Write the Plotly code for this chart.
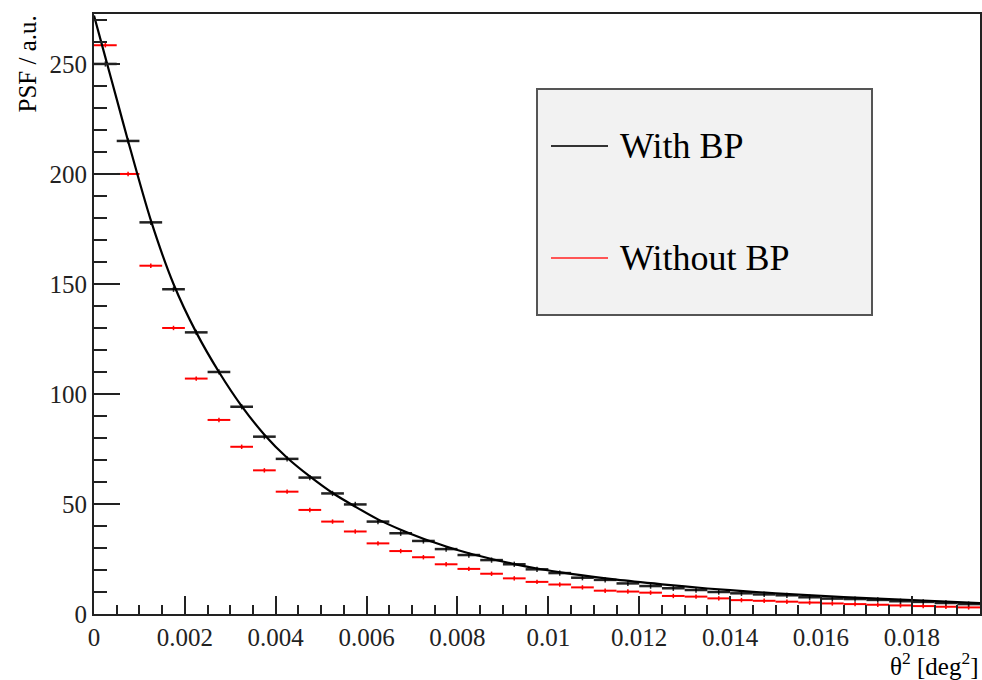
import numpy as np
import plotly.graph_objects as go

# histogram contents, bins of 0.0005 deg^2 starting at 0
bin_width = 0.0005
with_bp = [250, 215, 178, 147.6, 128, 110, 94.2, 80.6, 70.5, 62,
           54.8, 49.8, 42, 36.7, 33.2, 29.5, 26.8, 24.5, 22.6, 20.3,
           18.6, 16.5, 15.5, 13.9, 12.7, 11.7, 10.9, 10.0, 9.4, 8.9,
           8.5, 7.6, 7.0, 6.8, 6.4, 5.8, 5.5, 5.0, 4.5]
without_bp = [258.5, 200, 158.3, 130, 107, 88.2, 76, 65.3, 55.6, 47.3,
              42, 37.5, 32.1, 28.6, 25.8, 22.6, 20.5, 18.3, 16.2, 14.6,
              13.4, 12.1, 10.6, 10.2, 9.7, 8.2, 7.9, 7.1, 6.3, 6.0,
              5.6, 5.2, 4.8, 4.5, 4.2, 3.9, 3.6, 3.3, 3.0]

# fitted curve
fit_x = [0, 0.00025, 0.0005, 0.00075, 0.00125, 0.00175, 0.00225, 0.00275,
         0.00325, 0.00375, 0.00425, 0.00475, 0.00525, 0.00575, 0.00625,
         0.00675, 0.00725, 0.00775, 0.00825, 0.00875, 0.00925, 0.00975,
         0.0105, 0.0115, 0.0125, 0.0135, 0.0145, 0.0155, 0.0165, 0.0175,
         0.0185, 0.0195]
fit_y = [272, 253, 234, 215, 179, 150, 128, 110, 94.5, 81.5, 71, 62.5, 55,
         48.8, 43, 38.3, 34.2, 30.7, 27.6, 25, 22.7, 20.7, 18.2, 15.6, 13.5,
         11.6, 10.1, 8.8, 7.7, 6.8, 5.9, 4.9]

x_tickvals = [0, 0.002, 0.004, 0.006, 0.008, 0.01, 0.012, 0.014, 0.016, 0.018]
x_ticktext = ["0", "0.002", "0.004", "0.006", "0.008", "0.01", "0.012", "0.014", "0.016", "0.018"]
y_tickvals = [0, 50, 100, 150, 200, 250]

FONT = "Liberation Serif, Times New Roman, serif"

centers = (np.arange(len(with_bp)) + 0.5) * bin_width

fig = go.Figure()
fig.add_trace(go.Scatter(
    x=centers, y=without_bp, mode="markers", name="Without BP",
    marker=dict(size=2, color="red"),
    error_x=dict(type="constant", value=bin_width / 2, color="red", thickness=2, width=0),
    error_y=dict(type="constant", value=1.0, color="red", thickness=1.5, width=0),
))
fig.add_trace(go.Scatter(
    x=centers, y=with_bp, mode="markers", name="With BP",
    marker=dict(size=2, color="black"),
    error_x=dict(type="constant", value=bin_width / 2, color="#222", thickness=2.5, width=0),
    error_y=dict(type="constant", value=1.2, color="#222", thickness=1.5, width=0),
))
fig.add_trace(go.Scatter(
    x=fit_x, y=fit_y, mode="lines", name="fit",
    line=dict(color="black", width=2.2, shape="spline", smoothing=0.8),
))

# legend box drawn by hand to match the ROOT TLegend
fig.add_shape(type="rect", xref="paper", yref="paper",
              x0=(537 - 94) / 886, x1=(872 - 94) / 886,
              y0=(614 - 315) / 600, y1=(614 - 89) / 600,
              fillcolor="#f2f2f2", line=dict(color="#555", width=2), layer="below")
for ypix, col, label in [(146, "#333", "With BP"), (258, "#ff5555", "Without BP")]:
    yp = (614 - ypix) / 600
    fig.add_shape(type="line", xref="paper", yref="paper",
                  x0=(551 - 94) / 886, x1=(608 - 94) / 886, y0=yp, y1=yp,
                  line=dict(color=col, width=2))
    fig.add_annotation(xref="paper", yref="paper", x=(618 - 94) / 886, y=yp,
                       text=label, showarrow=False, xanchor="left", yanchor="middle",
                       font=dict(family=FONT, size=36, color="black"))

fig.add_annotation(xref="paper", yref="paper", x=-67 / 886, y=1.0,
                   text="PSF / a.u.", textangle=-90, showarrow=False,
                   xanchor="center", yanchor="top",
                   font=dict(family=FONT, size=25, color="black"))
fig.add_annotation(xref="paper", yref="paper", x=1.0, y=-(682 - 614) / 600,
                   text="θ<sup>2</sup> [deg<sup>2</sup>]", showarrow=False,
                   xanchor="right", yanchor="bottom",
                   font=dict(family=FONT, size=25, color="black"))

fig.update_xaxes(
    range=[0, 0.0195], showgrid=False, zeroline=False, automargin=False,
    showline=True, linecolor="#222", linewidth=2, mirror=True,
    ticks="inside", ticklen=18, tickwidth=1.5, tickcolor="#222",
    tickvals=x_tickvals, ticktext=x_ticktext,
    minor=dict(ticks="inside", ticklen=9, dtick=0.0005, tick0=0, tickcolor="#222", tickwidth=1.5),
    tickfont=dict(family=FONT, size=25, color="#222"),
)
fig.update_yaxes(
    range=[0, 272.7], showgrid=False, zeroline=False, automargin=False,
    showline=True, linecolor="#222", linewidth=2, mirror=True,
    ticks="inside", ticklen=26, tickwidth=1.5, tickcolor="#222",
    tickvals=y_tickvals,
    minor=dict(ticks="inside", ticklen=13, dtick=10, tick0=0, tickcolor="#222", tickwidth=1.5),
    tickfont=dict(family=FONT, size=25, color="#222"),
)
fig.update_layout(
    width=982, height=680,
    margin=dict(l=94, r=2, t=14, b=66),
    paper_bgcolor="white", plot_bgcolor="white",
    showlegend=False,
)

fig.write_html("out.html", config={"displayModeBar": False},
               post_script="document.body.style.margin='0';")
